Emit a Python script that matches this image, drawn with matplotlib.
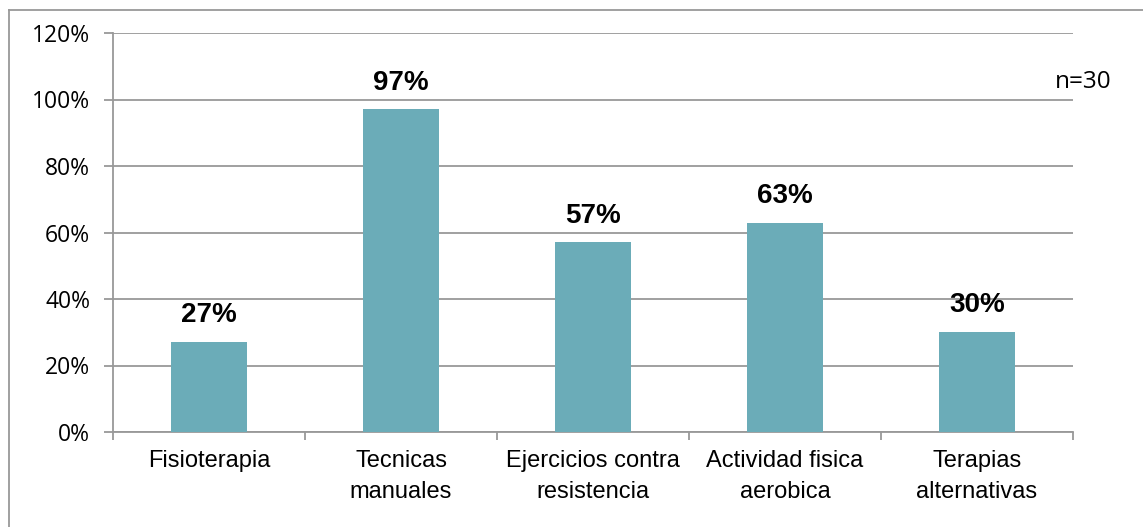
import matplotlib.pyplot as plt
from matplotlib.lines import Line2D

# datos de la encuesta
categorias = ['Fisioterapia', 'Tecnicas\nmanuales', 'Ejercicios contra\nresistencia',
              'Actividad fisica\naerobica', 'Terapias\nalternativas']
porcentajes = [27, 97, 57, 63, 30]
ticks_y = [0, 20, 40, 60, 80, 100, 120]

gris = '#999999'
color_barra = '#6BACB8'

fig = plt.figure(figsize=(11.43, 5.27), dpi=100)
ax = fig.add_axes([113 / 1143, 1 - 432 / 527, 960 / 1143, 399 / 527])

x = list(range(len(categorias)))
ax.bar(x, porcentajes, width=0.4, color=color_barra, zorder=3)

for xi, v in zip(x, porcentajes):
    ax.annotate(f'{v}%', (xi, v), xytext=(0, 10), textcoords='offset points',
                ha='center', va='bottom', fontsize=20, fontweight='bold',
                family='Liberation Sans')

ax.set_xlim(-0.5, len(categorias) - 0.5)
ax.set_ylim(0, 120)
ax.set_yticks(ticks_y)
ax.set_yticklabels([f'{t}%' for t in ticks_y], family='Open Sans', fontsize=16.5)
ax.grid(axis='y', color=gris, linewidth=1.3, zorder=0)

# marcas del eje x entre categorías
ax.set_xticks([i + 0.5 for i in range(-1, len(categorias))], minor=False)
ax.set_xticklabels([])
ax.tick_params(axis='x', length=6, width=1.3, color=gris)
ax.set_xticks(x, minor=True)
ax.set_xticklabels(categorias, minor=True, family='Liberation Sans', fontsize=17,
                   linespacing=1.5)
ax.tick_params(axis='x', which='minor', length=0, pad=13)
ax.tick_params(axis='y', length=6.5, width=1.3, color=gris, pad=10)

for lado in ['top', 'right']:
    ax.spines[lado].set_visible(False)
for lado in ['left', 'bottom']:
    ax.spines[lado].set_color(gris)
    ax.spines[lado].set_linewidth(1.3)

fig.text(1055 / 1143, 1 - 82 / 527, 'n=30', family='Open Sans', fontsize=17.5,
         ha='left', va='center')

# marco del gráfico
fig.add_artist(Line2D([9 / 1143, 9 / 1143], [0, 1 - 10 / 527], color=gris, lw=1.3))
fig.add_artist(Line2D([9 / 1143, 1], [1 - 10 / 527, 1 - 10 / 527], color=gris, lw=1.3))

fig.savefig('out.png', dpi=100)
